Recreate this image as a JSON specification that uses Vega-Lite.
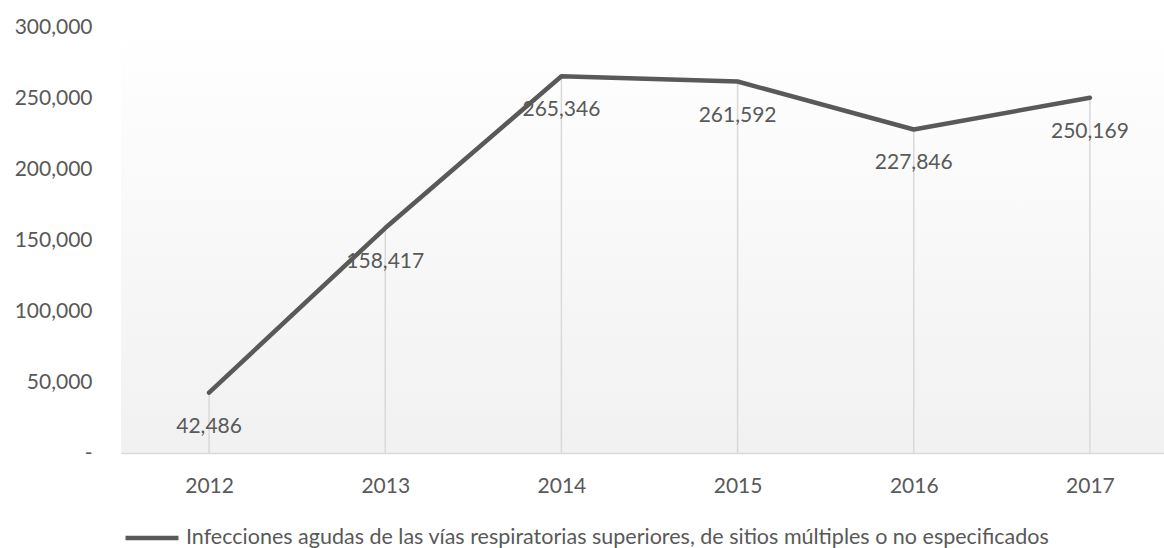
{
  "$schema": "https://vega.github.io/schema/vega-lite/v6.json",
  "width": 1057,
  "height": 426,
  "autosize": "none",
  "padding": {"left": 121, "top": 27, "right": 0, "bottom": 95},
  "background": "#ffffff",
  "data": {
    "values": [
      {"year": "2012", "value": 42486, "serie": "Infecciones agudas de las vías respiratorias superiores, de sitios múltiples o no especificados"},
      {"year": "2013", "value": 158417, "serie": "Infecciones agudas de las vías respiratorias superiores, de sitios múltiples o no especificados"},
      {"year": "2014", "value": 265346, "serie": "Infecciones agudas de las vías respiratorias superiores, de sitios múltiples o no especificados"},
      {"year": "2015", "value": 261592, "serie": "Infecciones agudas de las vías respiratorias superiores, de sitios múltiples o no especificados"},
      {"year": "2016", "value": 227846, "serie": "Infecciones agudas de las vías respiratorias superiores, de sitios múltiples o no especificados"},
      {"year": "2017", "value": 250169, "serie": "Infecciones agudas de las vías respiratorias superiores, de sitios múltiples o no especificados"}
    ]
  },
  "encoding": {
    "x": {
      "field": "year",
      "type": "ordinal",
      "scale": {"type": "point", "padding": 0.5},
      "axis": {
        "title": null,
        "labelAngle": 0,
        "ticks": false,
        "grid": false,
        "domainColor": "#d9d9d9",
        "domainWidth": 1.5,
        "labelFontSize": 21,
        "labelColor": "#595959",
        "labelFont": "Lato",
        "labelPadding": 22
      }
    },
    "y": {
      "field": "value",
      "type": "quantitative",
      "scale": {"domain": [0, 300000], "nice": false},
      "axis": {
        "title": null,
        "domain": false,
        "ticks": false,
        "grid": false,
        "values": [0, 50000, 100000, 150000, 200000, 250000, 300000],
        "labelExpr": "datum.value == 0 ? '-' : format(datum.value, ',')",
        "labelFontSize": 21,
        "labelColor": "#595959",
        "labelFont": "Lato",
        "labelPadding": 29
      }
    }
  },
  "layer": [
    {
      "mark": {"type": "rule", "color": "#d9d9d9", "strokeWidth": 1.5},
      "encoding": {"y2": {"datum": 0}}
    },
    {
      "mark": {"type": "line", "strokeWidth": 4.5, "strokeCap": "round", "strokeJoin": "round"},
      "encoding": {
        "color": {
          "field": "serie",
          "type": "nominal",
          "scale": {"range": ["#595959"]},
          "legend": {
            "title": null,
            "orient": "none",
            "legendX": 2,
            "legendY": 482,
            "symbolType": "stroke",
            "symbolSize": 2809,
            "symbolStrokeWidth": 4.5,
            "symbolStrokeColor": "#595959",
            "labelFontSize": 21.5,
            "labelFont": "Lato",
            "labelColor": "#595959",
            "labelOffset": 5,
            "labelLimit": 0
          }
        }
      }
    },
    {
      "mark": {"type": "text", "dy": 34, "fontSize": 21, "font": "Lato", "color": "#595959"},
      "encoding": {"text": {"field": "value", "type": "quantitative", "format": ","}}
    }
  ],
  "config": {
    "font": "Lato",
    "view": {
      "stroke": null,
      "fill": {
        "gradient": "linear",
        "x1": 0, "y1": 0, "x2": 0, "y2": 1,
        "stops": [
          {"offset": 0, "color": "#ffffff"},
          {"offset": 1, "color": "#f1f1f1"}
        ]
      }
    }
  }
}
